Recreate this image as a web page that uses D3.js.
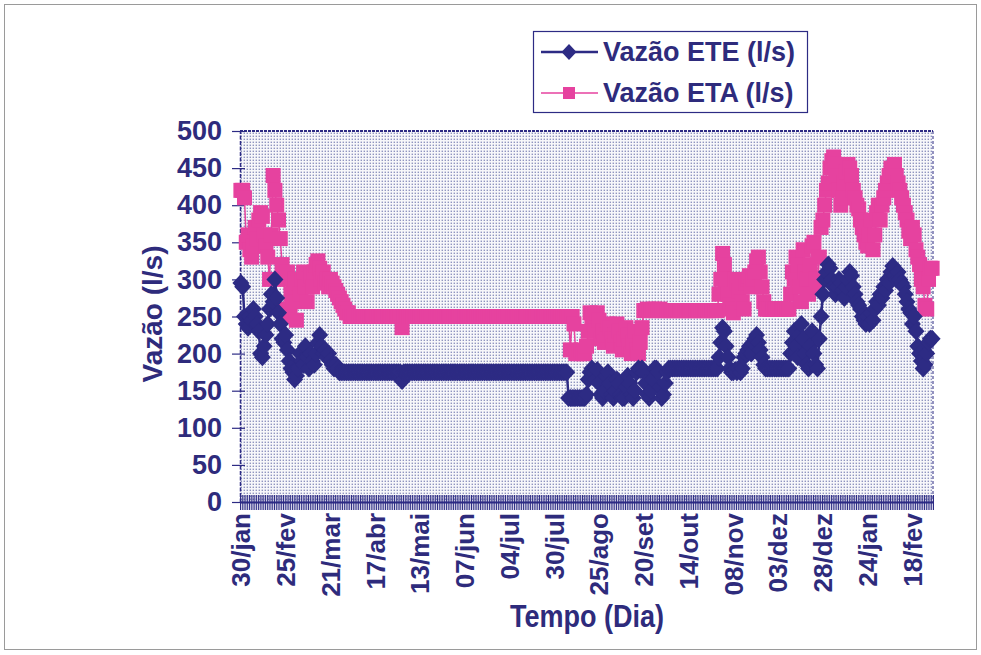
<!DOCTYPE html>
<html><head><meta charset="utf-8">
<script src="https://cdn.jsdelivr.net/npm/d3@7"></script>
<style>
body{margin:0;background:#fff;}
text{font-family:Arial,"Liberation Sans",sans-serif;font-weight:bold;fill:#2e2b7c;}
</style>
</head><body>
<svg id="c" width="981" height="655"></svg>
<script>
// ---------------- DATA ----------------
const seriesNames = ["Vazão ETE (l/s)", "Vazão ETA (l/s)"];
const tickLabels = ["30/jan","25/fev","21/mar","17/abr","13/mai","07/jun","04/jul","30/jul",
                    "25/ago","20/set","14/out","08/nov","03/dez","28/dez","24/jan","18/fev"];
const labelEvery = 25;
const yTicks = [0,50,100,150,200,250,300,350,400,450,500];

const vazaoETE = [
 295,290,250,240,235,250,245,260,250,240,
 230,200,195,210,225,240,260,280,270,300,
 275,255,240,220,215,225,205,190,180,175,
 165,170,180,200,190,185,210,195,180,200,
 190,185,200,215,225,210,200,205,195,200,
 190,185,180,185,180,175,175,175,175,175,
 175,175,175,175,175,175,175,175,175,175,
 175,175,175,175,175,175,175,175,175,175,
 175,175,175,175,175,175,175,175,175,175,
 163,175,175,175,175,175,175,175,175,175,
 175,175,175,175,175,175,175,175,175,175,
 175,175,175,175,175,175,175,175,175,175,
 175,175,175,175,175,175,175,175,175,175,
 175,175,175,175,175,175,175,175,175,175,
 175,175,175,175,175,175,175,175,175,175,
 175,175,175,175,175,175,175,175,175,175,
 175,175,175,175,175,175,175,175,175,175,
 175,175,175,175,175,175,175,175,175,175,
 175,175,175,140,140,140,140,140,140,140,
 140,140,140,145,165,
 175,180,175,165,178,160,145,140,150,170,
 175,160,145,140,150,165,160,145,140,140,
 155,170,160,145,140,150,175,180,178,180,
 175,160,145,140,150,165,180,180,175,155,
 140,145,160,175,180,180,
 180,180,180,180,180,180,180,180,180,180,180,180,180,
 180,180,180,180,180,180,180,180,180,180,180,180,180,
 195,215,235,230,210,195,180,175,175,178,175,180,175,180,195,200,
 205,210,200,215,220,225,215,205,195,185,180,
 180,180,180,180,180,180,180,180,180,180,180,180,180,
 200,215,230,210,195,225,240,220,200,185,180,210,230,200,185,180,220,
 250,280,300,310,320,315,300,290,280,290,300,295,
 285,275,290,300,310,305,290,280,270,265,260,
 250,245,240,250,240,255,245,260,270,265,280,
 275,290,285,300,295,310,318,305,300,310,300,
 295,290,280,270,260,255,240,250,230,210,200,190,180,185,200,215,220,220
];

const vazaoETA = [
 420,420,410,350,360,340,330,345,370,355,
 380,390,385,360,345,330,300,360,440,420,
 400,380,355,320,300,260,310,250,280,270,
 300,245,295,280,300,310,290,270,300,305,
 290,310,320,325,315,300,310,295,300,290,
 300,295,290,285,280,275,270,265,260,255,
 255,250,250,250,250,250,250,250,250,250,
 250,250,250,250,250,250,250,250,250,250,
 250,250,250,250,250,250,250,250,250,250,
 235,250,250,250,250,250,250,250,250,250,
 250,250,250,250,250,250,250,250,250,250,
 250,250,250,250,250,250,250,250,250,250,
 250,250,250,250,250,250,250,250,250,250,
 250,250,250,250,250,250,250,250,250,250,
 250,250,250,250,250,250,250,250,250,250,
 250,250,250,250,250,250,250,250,250,250,
 250,250,250,250,250,250,250,250,250,250,
 250,250,250,250,250,250,250,250,250,250,
 250,250,250,250,205,250,240,200,200,200,
 205,200,200,210,230,
 255,250,240,230,255,245,220,230,215,225,
 240,235,220,210,225,240,230,215,205,220,
 235,225,210,200,215,230,205,200,215,235,
 258,258,260,258,258,258,260,258,258,260,
 258,258,258,258,258,258,258,258,258,258,258,258,258,258,258,258,
 258,258,258,258,258,258,258,258,258,258,258,258,258,258,258,258,
 280,300,335,320,300,280,265,260,255,300,295,285,290,270,260,295,
 300,305,290,300,310,325,330,310,290,270,260,
 260,260,260,260,260,260,260,260,260,260,260,260,260,
 280,310,300,330,320,290,270,340,310,300,280,320,345,350,300,290,330,
 370,380,400,420,430,450,460,465,455,440,420,400,
 410,430,445,455,450,440,420,410,400,395,380,
 370,360,350,345,360,380,340,360,390,400,380,
 400,410,420,430,440,450,445,455,440,430,420,
 410,400,390,380,365,355,370,360,340,330,320,300,290,265,260,300,315,315
];

// ---------------- CHART ----------------
const navy = "#2d2b84", pink = "#e6429f", txt = "#2e2b7c";
const N = vazaoETE.length;
const plot = {left:240, right:933, top:131, bottom:502};
const svg = d3.select("#c");

svg.append("rect").attr("x",4.5).attr("y",4.5).attr("width",972).attr("height",645)
  .attr("fill","#fff").attr("stroke","#9a9a9a").attr("stroke-width",1);

const defs = svg.append("defs");
const pat = defs.append("pattern").attr("id","dots").attr("patternUnits","userSpaceOnUse")
  .attr("width",3).attr("height",3);
pat.append("rect").attr("width",3).attr("height",3).attr("fill","#f7f7fa");
pat.append("rect").attr("x",0.6).attr("y",0.6).attr("width",1.4).attr("height",1.4).attr("fill","#9095c0");

const x = d3.scaleBand().domain(d3.range(N)).range([plot.left, plot.right]).padding(0);
const xEdge = d3.scaleLinear().domain([0, N]).range([plot.left, plot.right]);
const y = d3.scaleLinear().domain([0, 500]).range([plot.bottom, plot.top]);
const cx = i => x(i) + x.bandwidth()/2;

svg.append("rect").attr("x",plot.left).attr("y",plot.top)
  .attr("width",plot.right-plot.left).attr("height",plot.bottom-plot.top)
  .attr("fill","url(#dots)");
// plot frame
svg.append("line").attr("x1",plot.left).attr("x2",plot.right).attr("y1",plot.top).attr("y2",plot.top)
  .attr("stroke",navy).attr("stroke-width",2).attr("stroke-dasharray","3,1");
svg.append("line").attr("x1",plot.right).attr("x2",plot.right).attr("y1",plot.top).attr("y2",plot.bottom)
  .attr("stroke",navy).attr("stroke-width",1).attr("stroke-dasharray","3,2");

// Y axis
const yAxis = svg.append("g").attr("transform",`translate(${plot.left},0)`)
  .call(d3.axisLeft(y).tickValues(yTicks).tickSizeInner(8).tickSizeOuter(0).tickPadding(10));
yAxis.select(".domain").attr("stroke",navy).attr("stroke-width",1.5).attr("stroke-dasharray","4,1.5");
yAxis.selectAll(".tick line").attr("stroke",navy).attr("stroke-width",1.2).attr("x2",-8).attr("x1",5);
yAxis.selectAll(".tick text").style("font-size","27px").style("font-family","Arial, 'Liberation Sans', sans-serif")
  .style("font-weight","bold").attr("fill",txt);

// X axis: dense category tick marks
const xTicks = svg.append("g").attr("transform",`translate(0,${plot.bottom})`)
  .call(d3.axisBottom(xEdge).tickValues(d3.range(N+1)).tickSizeInner(8).tickSizeOuter(0).tickFormat(""));
xTicks.select(".domain").attr("stroke",navy).attr("stroke-width",2);
xTicks.selectAll(".tick line").attr("stroke",navy).attr("stroke-width",1).attr("y1",-7).attr("y2",8);

// X axis labels
const labelIdx = tickLabels.map((d,k) => k*labelEvery);
const xLab = svg.append("g").attr("transform",`translate(0,${plot.bottom})`)
  .call(d3.axisBottom(x).tickValues(labelIdx).tickSize(0).tickFormat(i => tickLabels[i/labelEvery]));
xLab.select(".domain").remove();
xLab.selectAll(".tick text")
  .attr("transform","rotate(-90)").attr("x",-11).attr("y",0).attr("dy","0.36em")
  .style("text-anchor","end").style("font-size","26px")
  .style("font-family","Arial, 'Liberation Sans', sans-serif").style("font-weight","bold").attr("fill",txt);

// axis titles
svg.append("text").attr("transform","translate(152,314) rotate(-90)")
  .attr("text-anchor","middle").attr("dy","0.35em").style("font-size","28px").text("Vazão (l/s)");
svg.append("text").attr("x",510).attr("y",627)
  .attr("textLength",154).attr("lengthAdjust","spacingAndGlyphs")
  .style("font-size","31px").text("Tempo (Dia)");

// series
const lineGen = d3.line().x((d,i) => cx(i)).y(d => y(d));
const gETA = svg.append("g");
gETA.append("path").datum(vazaoETA).attr("d",lineGen).attr("fill","none")
  .attr("stroke",pink).attr("stroke-width",1.5);
gETA.selectAll("rect").data(vazaoETA).join("rect")
  .attr("x",(d,i)=>cx(i)-7.5).attr("y",d=>y(d)-7.5).attr("width",15).attr("height",15)
  .attr("fill",pink);

const diamond = "M0,-9L8.5,0L0,9L-8.5,0Z";
const gETE = svg.append("g");
gETE.append("path").datum(vazaoETE).attr("d",lineGen).attr("fill","none")
  .attr("stroke",navy).attr("stroke-width",2.5);
gETE.selectAll("path.m").data(vazaoETE).join("path").attr("class","m")
  .attr("d",diamond).attr("transform",(d,i)=>`translate(${cx(i)},${y(d)})`).attr("fill",navy);

// legend
const legendDiamond = "M0,-8L7.5,0L0,8L-7.5,0Z";
const lg = svg.append("g");
lg.append("rect").attr("x",533.5).attr("y",31.5).attr("width",274).attr("height",81)
  .attr("fill","#fff").attr("stroke",navy).attr("stroke-width",1.2);
const items = [
  {name:seriesNames[0], color:navy, yy:52, w:2.5, shape:"d"},
  {name:seriesNames[1], color:pink, yy:93, w:1.5, shape:"s"}
];
items.forEach(it => {
  lg.append("line").attr("x1",541).attr("x2",598).attr("y1",it.yy).attr("y2",it.yy)
    .attr("stroke",it.color).attr("stroke-width",it.w);
  if (it.shape==="d") lg.append("path").attr("d",legendDiamond).attr("transform",`translate(569,${it.yy})`).attr("fill",it.color);
  else lg.append("rect").attr("x",563).attr("y",it.yy-6).attr("width",12).attr("height",12).attr("fill",it.color);
  lg.append("text").attr("x",603).attr("y",it.yy).attr("dy","0.35em").style("font-size","27px").text(it.name);
});
</script>
</body></html>
